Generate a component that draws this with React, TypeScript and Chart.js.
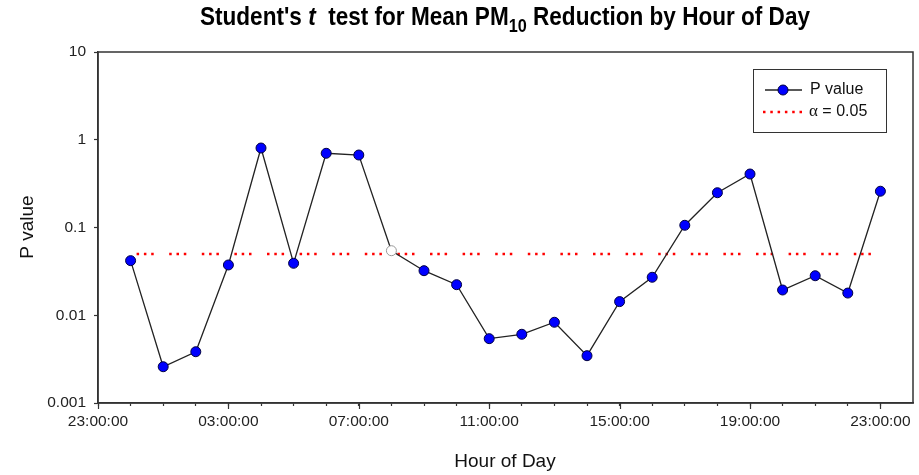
import React, { useEffect, useRef } from 'react';
import { Chart, registerables } from 'chart.js';

Chart.register(...registerables);

// ---- data ----
const hours = [0, 1, 2, 3, 4, 5, 6, 7, 8, 9, 10, 11, 12, 13, 14, 15, 16, 17, 18, 19, 20, 21, 22, 23];
const pValues = [
  0.0419, 0.00259, 0.00384, 0.0374, 0.805, 0.0391, 0.701, 0.67, 0.0544, 0.0322, 0.0223, 0.00541,
  0.00607, 0.00832, 0.00346, 0.0143, 0.0271, 0.106, 0.249, 0.407, 0.0194, 0.0282, 0.0179, 0.259,
];
const alphaLevel = 0.05;
const alphaStartHour = 0;
const alphaEndHour = 23;
const xTickHours = [-1, 0, 1, 2, 3, 4, 5, 6, 7, 8, 9, 10, 11, 12, 13, 14, 15, 16, 17, 18, 19, 20, 21, 22, 23];
const xMajorHours = [-1, 3, 7, 11, 15, 19, 23];
const xTickLabels = ['23:00:00', '03:00:00', '07:00:00', '11:00:00', '15:00:00', '19:00:00', '23:00:00'];
const yTickValues = [0.001, 0.01, 0.1, 1, 10];
const yTickLabels = ['0.001', '0.01', '0.1', '1', '10'];
const hollowIndex = 8;

// ---- text ----
const titleSegs = [
  { text: "Student's ", italic: false, sub: false },
  { text: 't', italic: true, sub: false },
  { text: '  test for Mean PM', italic: false, sub: false },
  { text: '10', italic: false, sub: true },
  { text: ' Reduction by Hour of Day', italic: false, sub: false },
];
const xTitle = 'Hour of Day';
const yTitle = 'P value';
const legendP = 'P value';
const legendAlphaSym = 'α';
const legendAlphaRest = ' = 0.05';

const FONT = '"Liberation Sans", Arial, Helvetica, sans-serif';
const SERIF = '"Liberation Serif", "Times New Roman", serif';

const decor = {
  id: 'decor',
  beforeDatasetsDraw(chart: any) {
    const { ctx, chartArea: a } = chart;
    ctx.save();
    ctx.strokeStyle = '#333';
    ctx.lineWidth = 1.5;
    ctx.strokeRect(a.left, a.top, a.right - a.left, a.bottom - a.top);
    // longer major ticks on x axis
    const xs = chart.scales.x;
    ctx.lineWidth = 1.2;
    xMajorHours.forEach((h) => {
      const px = Math.round(xs.getPixelForValue(h)) + 0.5;
      ctx.beginPath();
      ctx.moveTo(px, a.bottom);
      ctx.lineTo(px, a.bottom + 6);
      ctx.stroke();
    });
    ctx.restore();
  },
  afterDraw(chart: any) {
    const { ctx } = chart;
    ctx.save();
    // Title
    const mainSize = 25;
    const subSize = 18;
    const fontFor = (s: any) => `${s.italic ? 'italic ' : ''}bold ${s.sub ? subSize : mainSize}px ${FONT}`;
    const widths = titleSegs.map((s) => {
      ctx.font = fontFor(s);
      return ctx.measureText(s.text).width;
    });
    const total = widths.reduce((p, c) => p + c, 0);
    const sx = 610 / total;
    ctx.save();
    ctx.translate(200, 25);
    ctx.scale(sx, 1);
    ctx.fillStyle = '#000';
    ctx.textBaseline = 'alphabetic';
    ctx.textAlign = 'left';
    let x = 0;
    titleSegs.forEach((s, i) => {
      ctx.font = fontFor(s);
      ctx.fillText(s.text, x, s.sub ? 7 : 0);
      x += widths[i];
    });
    ctx.restore();

    // Axis titles
    ctx.fillStyle = '#111';
    ctx.font = `19px ${FONT}`;
    ctx.textAlign = 'center';
    ctx.textBaseline = 'alphabetic';
    ctx.fillText(xTitle, 505, 467);
    ctx.save();
    ctx.translate(33, 227);
    ctx.rotate(-Math.PI / 2);
    ctx.fillText(yTitle, 0, 0);
    ctx.restore();

    // Legend
    ctx.strokeStyle = '#333';
    ctx.lineWidth = 1;
    ctx.fillStyle = '#fff';
    ctx.fillRect(753, 69, 133, 63);
    ctx.strokeRect(753.5, 69.5, 133, 63);
    // P value row
    ctx.strokeStyle = '#222';
    ctx.lineWidth = 1.3;
    ctx.beginPath();
    ctx.moveTo(765, 90);
    ctx.lineTo(802, 90);
    ctx.stroke();
    ctx.beginPath();
    ctx.arc(783, 90, 5, 0, Math.PI * 2);
    ctx.fillStyle = '#0000ff';
    ctx.fill();
    ctx.strokeStyle = '#000040';
    ctx.lineWidth = 1;
    ctx.stroke();
    ctx.fillStyle = '#111';
    ctx.textAlign = 'left';
    ctx.textBaseline = 'middle';
    ctx.font = `16px ${FONT}`;
    ctx.fillText(legendP, 810, 90);
    // alpha row
    ctx.strokeStyle = '#ff0000';
    ctx.lineWidth = 2.5;
    ctx.setLineDash([2.5, 4.8]);
    ctx.beginPath();
    ctx.moveTo(763, 112);
    ctx.lineTo(803, 112);
    ctx.stroke();
    ctx.setLineDash([]);
    ctx.font = `17px ${SERIF}`;
    ctx.fillText(legendAlphaSym, 809, 112);
    const aw = ctx.measureText(legendAlphaSym).width;
    ctx.font = `16px ${FONT}`;
    ctx.fillText(legendAlphaRest, 809 + aw, 112);
    ctx.restore();
  },
};

export default function App() {
  const ref = useRef<HTMLCanvasElement>(null);
  useEffect(() => {
    const canvas = ref.current;
    if (!canvas) return;
    const pointBg = hours.map((_, i) => (i === hollowIndex ? '#ffffff' : '#0000ff'));
    const pointBorder = hours.map((_, i) => (i === hollowIndex ? '#999999' : '#000040'));
    const chart = new Chart(canvas, {
      type: 'line',
      data: {
        datasets: [
          {
            label: legendP,
            data: hours.map((h, i) => ({ x: h, y: pValues[i] })),
            borderColor: '#222',
            borderWidth: 1.3,
            pointRadius: 5,
            pointHoverRadius: 5,
            pointBackgroundColor: pointBg,
            pointBorderColor: pointBorder,
            pointBorderWidth: 1,
            tension: 0,
            fill: false,
          },
          {
            label: 'alpha',
            data: [
              { x: alphaStartHour, y: alphaLevel },
              { x: alphaEndHour, y: alphaLevel },
            ],
            borderColor: '#ff0000',
            borderWidth: 2.5,
            borderDash: [2.5, 4.8, 2.5, 4.8, 2.5, 15.5],
            borderDashOffset: 26.6,
            borderCapStyle: 'butt',
            pointRadius: 0,
            tension: 0,
            fill: false,
          },
        ],
      },
      options: {
        animation: false,
        responsive: false,
        devicePixelRatio: 1,
        events: [],
        layout: { padding: { top: 52, right: 6, left: 0, bottom: 0 } },
        plugins: {
          legend: { display: false },
          title: { display: false },
          tooltip: { enabled: false },
        },
        scales: {
          x: {
            type: 'linear',
            min: -1,
            max: 24,
            afterBuildTicks: (scale: any) => {
              scale.ticks = xTickHours.map((v) => ({ value: v }));
            },
            afterFit: (scale: any) => {
              scale.height = 72;
            },
            ticks: {
              autoSkip: false,
              maxRotation: 0,
              minRotation: 0,
              padding: 6,
              color: '#222',
              font: { family: FONT, size: 15.5 },
              callback: (value: any) => {
                const v = Number(value);
                if ((v + 1) % 4 === 0) return xTickLabels[(v + 1) / 4];
                return '';
              },
            },
            grid: {
              display: true,
              drawOnChartArea: false,
              drawTicks: true,
              tickLength: 3,
              tickColor: '#333',
              tickWidth: 1.2,
            },
            border: { display: true, color: '#333', width: 1.5 },
          },
          y: {
            type: 'logarithmic',
            min: 0.001,
            max: 10,
            afterBuildTicks: (scale: any) => {
              scale.ticks = yTickValues.map((v) => ({ value: v }));
            },
            afterFit: (scale: any) => {
              scale.width = 98;
            },
            ticks: {
              autoSkip: false,
              padding: 8,
              color: '#222',
              font: { family: FONT, size: 15.5 },
              callback: (value: any) => {
                const idx = yTickValues.findIndex((v) => Math.abs(v - Number(value)) < v * 1e-6);
                return idx >= 0 ? yTickLabels[idx] : '';
              },
            },
            grid: {
              display: true,
              drawOnChartArea: false,
              drawTicks: true,
              tickLength: 4,
              tickColor: '#333',
              tickWidth: 1.2,
            },
            border: { display: true, color: '#333', width: 1.5 },
          },
        },
      },
      plugins: [decor],
    } as any);
    return () => chart.destroy();
  }, []);
  return (
    <div style={{ position: 'absolute', left: 0, top: 0, width: 919, height: 475, background: '#fff' }}>
      <canvas ref={ref} width={919} height={475} style={{ width: 919, height: 475, display: 'block' }} />
    </div>
  );
}
